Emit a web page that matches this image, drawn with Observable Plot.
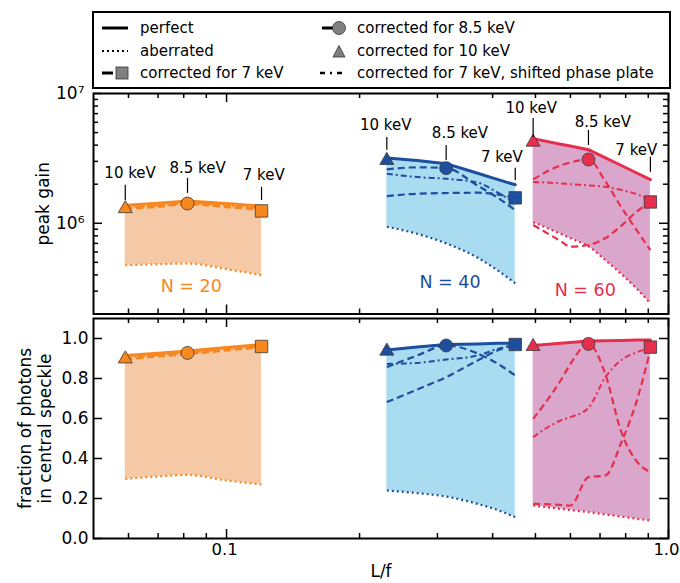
<!DOCTYPE html>
<html><head><meta charset="utf-8">
<script src="https://cdn.jsdelivr.net/npm/d3@7"></script>
<script src="https://cdn.jsdelivr.net/npm/@observablehq/plot@0.6"></script>
<style>
body{margin:0;background:#fff;}
#wrap{position:relative;width:680px;height:583px;font-family:"DejaVu Sans";background:#fff;overflow:hidden;}
#wrap svg{position:absolute;left:0;display:block;overflow:visible;}
</style></head><body><div id="wrap">
<svg id="legend" width="680" height="92" style="top:0" font-family="DejaVu Sans" font-size="15">
  <rect x="93" y="12" width="577" height="76" fill="white" stroke="black" stroke-width="2"/>
  <line x1="102" x2="128" y1="28" y2="28" stroke="black" stroke-width="3"/>
  <line x1="102" x2="128" y1="51" y2="51" stroke="black" stroke-width="2" stroke-dasharray="2,3"/>
  <line x1="102" x2="113" y1="73" y2="73" stroke="black" stroke-width="3"/>
  <rect x="116" y="67" width="12" height="12" fill="#808080" stroke="#333" stroke-width="0.8"/>
  <text x="140" y="28" dominant-baseline="central">perfect</text>
  <text x="140" y="51" dominant-baseline="central">aberrated</text>
  <text x="140" y="73" dominant-baseline="central">corrected for 7 keV</text>
  <line x1="322" x2="333" y1="28" y2="28" stroke="black" stroke-width="3"/>
  <circle cx="339" cy="28" r="6.5" fill="#808080" stroke="#333" stroke-width="0.8"/>
  <path d="M333,57 L345,57 L339,45.5 Z" fill="#808080" stroke="#333" stroke-width="0.8"/>
  <line x1="320" x2="346" y1="73" y2="73" stroke="black" stroke-width="2.5" stroke-dasharray="5,5,2,5"/>
  <text x="357" y="28" dominant-baseline="central">corrected for 8.5 keV</text>
  <text x="357" y="51" dominant-baseline="central">corrected for 10 keV</text>
  <text x="357" y="73" dominant-baseline="central">corrected for 7 keV, shifted phase plate</text>
</svg>
</div>
<script>
// ---------- categories ----------
const groupNames = ["N = 20", "N = 40", "N = 60"];
const energies = ["10 keV", "8.5 keV", "7 keV"];
const lineColors = ["#f7871f", "#1d4e9f", "#e62e4d"];
const fillColors = ["#f6c9a6", "#a9dbf1", "#dba6cc"];

// ---------- L/f sample positions ----------
const lf20 = [0.059, 0.07, 0.0816, 0.1, 0.12];
const lf40 = [0.2305, 0.27, 0.314, 0.37, 0.41, 0.45];
const lf60 = [0.494, 0.57, 0.6, 0.659, 0.72, 0.78, 0.85, 0.91];

// ---------- peak gain ----------
const gainPerfect20 = [1.376e6, 1.43e6, 1.486e6, 1.42e6, 1.352e6];
const gainAberr20   = [4.75e5, 4.84e5, 4.9e5, 4.43e5, 3.98e5];
const gainCorr7_20  = [1.28e6, 1.34e6, 1.40e6, 1.33e6, 1.27e6];
const gainCorr85_20 = [1.31e6, 1.38e6, 1.44e6, 1.36e6, 1.28e6];
const gainShift20   = [1.33e6, 1.37e6, 1.42e6, 1.37e6, 1.30e6];

const gainPerfect40 = [3.19e6, 3.05e6, 2.88e6, 2.43e6, 2.18e6, 1.98e6];
const gainAberr40   = [9.4e5, 8.3e5, 7.0e5, 5.43e5, 4.35e5, 3.45e5];
const gainCorr7_40  = [1.62e6, 1.69e6, 1.71e6, 1.72e6, 1.67e6, 1.57e6];
const gainCorr85_40 = [2.6e6, 2.7e6, 2.66e6, 1.95e6, 1.58e6, 1.26e6];
const gainShift40   = [2.41e6, 2.27e6, 2.2e6, 2.06e6, 1.73e6, 1.43e6];

const gainPerfect60 = [4.49e6, 4.07e6, 3.94e6, 3.69e6, 3.19e6, 2.8e6, 2.43e6, 2.17e6];
const gainAberr60   = [1.02e6, 8.3e5, 7.67e5, 6.65e5, 5.19e5, 4.1e5, 3.1e5, 2.41e5];
const gainCorr7_60  = [9.7e5, 7.3e5, 6.6e5, 6.8e5, 7.7e5, 9.5e5, 1.24e6, 1.46e6];
const gainCorr85_60 = [2.18e6, 2.79e6, 2.94e6, 3.1e6, 2.1e6, 1.35e6, 8.7e5, 6.2e5];
const gainShift60   = [2.08e6, 2.03e6, 2.0e6, 1.96e6, 1.91e6, 1.81e6, 1.67e6, 1.5e6];

// ---------- fraction of photons in central speckle ----------
const fracPerfect20 = [0.915, 0.926, 0.937, 0.955, 0.97];
const fracAberr20   = [0.298, 0.31, 0.318, 0.29, 0.27];
const fracCorr7_20  = [0.895, 0.91, 0.922, 0.94, 0.958];
const fracCorr85_20 = [0.9, 0.915, 0.93, 0.945, 0.955];
const fracShift20   = [0.905, 0.918, 0.928, 0.948, 0.962];

const fracPerfect40 = [0.943, 0.957, 0.97, 0.973, 0.976, 0.977];
const fracAberr40   = [0.24, 0.227, 0.21, 0.173, 0.143, 0.107];
const fracCorr7_40  = [0.682, 0.745, 0.807, 0.89, 0.94, 0.97];
const fracCorr85_40 = [0.857, 0.915, 0.965, 0.925, 0.875, 0.815];
const fracShift40   = [0.873, 0.878, 0.895, 0.915, 0.948, 0.97];

const fracPerfect60 = [0.965, 0.976, 0.98, 0.987, 0.989, 0.99, 0.992, 0.993];
const fracAberr60   = [0.165, 0.148, 0.142, 0.132, 0.12, 0.11, 0.098, 0.09];
const fracCorr7_60  = [0.173, 0.168, 0.165, 0.307, 0.315, 0.473, 0.698, 0.943];
const fracCorr85_60 = [0.598, 0.79, 0.873, 0.973, 0.82, 0.54, 0.382, 0.332];
const fracShift60   = [0.507, 0.59, 0.607, 0.653, 0.807, 0.89, 0.932, 0.953];

// ---------- markers (10, 8.5, 7 keV) ----------
const markerLf20 = [0.059, 0.0816, 0.12];
const markerLf40 = [0.2305, 0.314, 0.45];
const markerLf60 = [0.494, 0.659, 0.91];
const markerGain20 = [1.297e6, 1.42e6, 1.245e6];
const markerGain40 = [3.05e6, 2.66e6, 1.57e6];
const markerGain60 = [4.22e6, 3.1e6, 1.46e6];
const markerFrac20 = [0.898, 0.928, 0.96];
const markerFrac40 = [0.937, 0.965, 0.97];
const markerFrac60 = [0.96, 0.973, 0.957];

// ---------- annotations (top panel, data units) ----------
const annLabelLf20 = [0.0605, 0.086, 0.1214];
const annLabelLf40 = [0.2292, 0.3374, 0.4197];
const annLabelLf60 = [0.4892, 0.7104, 0.8455];
const annLabelGain20 = [2.43e6, 2.65e6, 2.34e6];
const annLabelGain40 = [5.67e6, 4.92e6, 3.22e6];
const annLabelGain60 = [7.67e6, 6.01e6, 3.65e6];
const annTop20 = [1.96e6, 2.22e6, 1.89e6];
const annBot20 = [1.5e6, 1.7e6, 1.5e6];
const annTop40 = [4.59e6, 3.98e6, 2.65e6];
const annBot40 = [3.65e6, 3.05e6, 2.14e6];
const annTop60 = [6.42e6, 5.19e6, 3.22e6];
const annBot60 = [4.59e6, 3.98e6, 2.47e6];

const nLabelLf = [0.0832, 0.3203, 0.648];
const nLabelGain = [3.24e5, 3.53e5, 3.05e5];

// ---------- tick values ----------
const xMajorTicks = [0.1, 1.0];
const xMinorTicks = [0.06, 0.07, 0.08, 0.09, 0.2, 0.3, 0.4, 0.5, 0.6, 0.7, 0.8, 0.9];
const gainMajorTicks = [1e6, 1e7];
const gainMinorTicks = [3e5, 4e5, 5e5, 6e5, 7e5, 8e5, 9e5, 2e6, 3e6, 4e6, 5e6, 6e6, 7e6, 8e6, 9e6];
const fracMajorTicks = [0, 0.2, 0.4, 0.6, 0.8, 1.0];

// ---------- build tables ----------
const groups = [
  {lf: lf20, gp: gainPerfect20, ga: gainAberr20, g7: gainCorr7_20, g85: gainCorr85_20, gs: gainShift20,
   fp: fracPerfect20, fa: fracAberr20, f7: fracCorr7_20, f85: fracCorr85_20, fs: fracShift20,
   mx: markerLf20, mg: markerGain20, mf: markerFrac20, alx: annLabelLf20, aly: annLabelGain20, at: annTop20, ab: annBot20},
  {lf: lf40, gp: gainPerfect40, ga: gainAberr40, g7: gainCorr7_40, g85: gainCorr85_40, gs: gainShift40,
   fp: fracPerfect40, fa: fracAberr40, f7: fracCorr7_40, f85: fracCorr85_40, fs: fracShift40,
   mx: markerLf40, mg: markerGain40, mf: markerFrac40, alx: annLabelLf40, aly: annLabelGain40, at: annTop40, ab: annBot40},
  {lf: lf60, gp: gainPerfect60, ga: gainAberr60, g7: gainCorr7_60, g85: gainCorr85_60, gs: gainShift60,
   fp: fracPerfect60, fa: fracAberr60, f7: fracCorr7_60, f85: fracCorr85_60, fs: fracShift60,
   mx: markerLf60, mg: markerGain60, mf: markerFrac60, alx: annLabelLf60, aly: annLabelGain60, at: annTop60, ab: annBot60}
];

const gainRows = [], fracRows = [], gainMarkers = [], fracMarkers = [], annots = [], nLabels = [];
groups.forEach((G, gi) => {
  G.lf.forEach((x, i) => {
    gainRows.push({g: gi, color: lineColors[gi], fill: fillColors[gi], x,
      perfect: G.gp[i], aberrated: G.ga[i], corr7: G.g7[i], corr85: G.g85[i], shifted: G.gs[i]});
    fracRows.push({g: gi, color: lineColors[gi], fill: fillColors[gi], x,
      perfect: G.fp[i], aberrated: G.fa[i], corr7: G.f7[i], corr85: G.f85[i], shifted: G.fs[i]});
  });
  G.mx.forEach((x, k) => {
    gainMarkers.push({k, color: lineColors[gi], x, y: G.mg[k]});
    fracMarkers.push({k, color: lineColors[gi], x, y: G.mf[k]});
    annots.push({x, lx: G.alx[k], ly: G.aly[k], top: G.at[k], bot: G.ab[k], text: energies[k]});
  });
  nLabels.push({x: nLabelLf[gi], y: nLabelGain[gi], text: groupNames[gi], color: lineColors[gi]});
});

const W = 680, ML = 93, MR = 12, FW = W - ML - MR;

function seriesMarks(rows, markers) {
  const sym = ["triangle", "circle", "square"];
  const rr = [5.2, 6.5, 7];
  return [
    Plot.areaY(rows, {x: "x", y1: "aberrated", y2: "perfect", z: "g", fill: "fill", curve: "monotone-x"}),
    Plot.line(rows, {x: "x", y: "aberrated", z: "g", stroke: "color", strokeWidth: 2.2, strokeDasharray: "2,3", strokeLinecap: "butt", curve: "monotone-x"}),
    Plot.line(rows, {x: "x", y: "corr7", z: "g", stroke: "color", strokeWidth: 2.2, strokeDasharray: "7,4", strokeLinecap: "butt", curve: "monotone-x"}),
    Plot.line(rows, {x: "x", y: "corr85", z: "g", stroke: "color", strokeWidth: 2.2, strokeDasharray: "7,4", strokeLinecap: "butt", curve: "monotone-x"}),
    Plot.line(rows, {x: "x", y: "shifted", z: "g", stroke: "color", strokeWidth: 2, strokeDasharray: "6,3,2,3", strokeLinecap: "butt", curve: "monotone-x"}),
    Plot.line(rows, {x: "x", y: "perfect", z: "g", stroke: "color", strokeWidth: 3}),
    ...[0, 1, 2].map(k => Plot.dot(markers.filter(d => d.k === k), {x: "x", y: "y", symbol: sym[k], r: rr[k], fill: "color", stroke: "#3a3a3a", strokeWidth: 0.8}))
  ];
}

function tickMarks(fh, yMajor, yMinor) {
  const s = {stroke: "black", strokeWidth: 1.5};
  const m = [
    Plot.tickY(yMajor, {y: d => d, insetRight: FW - 9, ...s}),
    Plot.tickY(yMajor, {y: d => d, insetLeft: FW - 9, ...s}),
    Plot.tickX(xMajorTicks, {x: d => d, insetTop: fh - 9, ...s}),
    Plot.tickX(xMajorTicks, {x: d => d, insetBottom: fh - 9, ...s}),
    Plot.tickX(xMinorTicks, {x: d => d, insetTop: fh - 5, ...s}),
    Plot.tickX(xMinorTicks, {x: d => d, insetBottom: fh - 5, ...s})
  ];
  if (yMinor) {
    m.push(Plot.tickY(yMinor, {y: d => d, insetRight: FW - 5, ...s}));
    m.push(Plot.tickY(yMinor, {y: d => d, insetLeft: FW - 5, ...s}));
  }
  return m;
}

const wrap = document.getElementById("wrap");

// ---------- top panel ----------
const topH = 316, topMT = 93, topMB = 2.5;
const topFh = topH - topMT - topMB;
const sup = {"1000000": "10⁶", "10000000": "10⁷"};
const topPlot = Plot.plot({
  width: W, height: topH, marginTop: topMT, marginBottom: topMB, marginLeft: ML, marginRight: MR,
  style: {fontFamily: "DejaVu Sans", background: "transparent", overflow: "visible"},
  x: {type: "log", domain: [0.05, 1], axis: null},
  y: {type: "log", domain: [2e5, 1e7]},
  color: {type: "identity"},
  marks: [
    ...seriesMarks(gainRows, gainMarkers),
    Plot.ruleX(annots, {x: "x", y1: "bot", y2: "top", stroke: "black", strokeWidth: 1.2}),
    Plot.text(annots, {x: "lx", y: "ly", text: "text", fontSize: 15, fill: "black"}),
    Plot.text(nLabels, {x: "x", y: "y", text: "text", fill: "color", fontSize: 17.5}),
    ...tickMarks(topFh, gainMajorTicks, gainMinorTicks),
    Plot.frame({stroke: "black", strokeWidth: 2}),
    Plot.axisY({ticks: gainMajorTicks, tickSize: 0, tickPadding: 9, tickFormat: d => sup[String(d)], fontSize: 17, label: null}),
    Plot.text(["peak gain"], {frameAnchor: "left", textAnchor: "middle", rotate: -90, dx: -50, fontSize: 17, fill: "black"})
  ]
});
topPlot.style.top = "0px";
wrap.appendChild(topPlot);

// ---------- bottom panel ----------
const botTop = 316, botH = 267, botMT = 2, botMB = 45;
const botFh = botH - botMT - botMB;
const botPlot = Plot.plot({
  width: W, height: botH, marginTop: botMT, marginBottom: botMB, marginLeft: ML, marginRight: MR,
  style: {fontFamily: "DejaVu Sans", background: "transparent", overflow: "visible"},
  x: {type: "log", domain: [0.05, 1]},
  y: {domain: [0, 1.1]},
  color: {type: "identity"},
  marks: [
    ...seriesMarks(fracRows, fracMarkers),
    ...tickMarks(botFh, fracMajorTicks, null),
    Plot.frame({stroke: "black", strokeWidth: 2}),
    Plot.axisY({ticks: fracMajorTicks, tickSize: 0, tickPadding: 5, tickFormat: d => d.toFixed(1), fontSize: 17, label: null}),
    Plot.axisX({ticks: xMajorTicks, tickSize: 0, tickPadding: 5, dx: -2, tickFormat: d => d.toFixed(1), fontSize: 16.5, label: null}),
    Plot.text(["fraction of photons\nin central speckle"], {frameAnchor: "left", textAnchor: "middle", lineAnchor: "middle", rotate: -90, dx: -59, fontSize: 17, lineHeight: 1.2, fill: "black"}),
    Plot.text(["L/f"], {frameAnchor: "bottom", dy: 38, fontSize: 17, fill: "black"})
  ]
});
botPlot.style.top = botTop + "px";
wrap.appendChild(botPlot);
</script>
</body></html>
